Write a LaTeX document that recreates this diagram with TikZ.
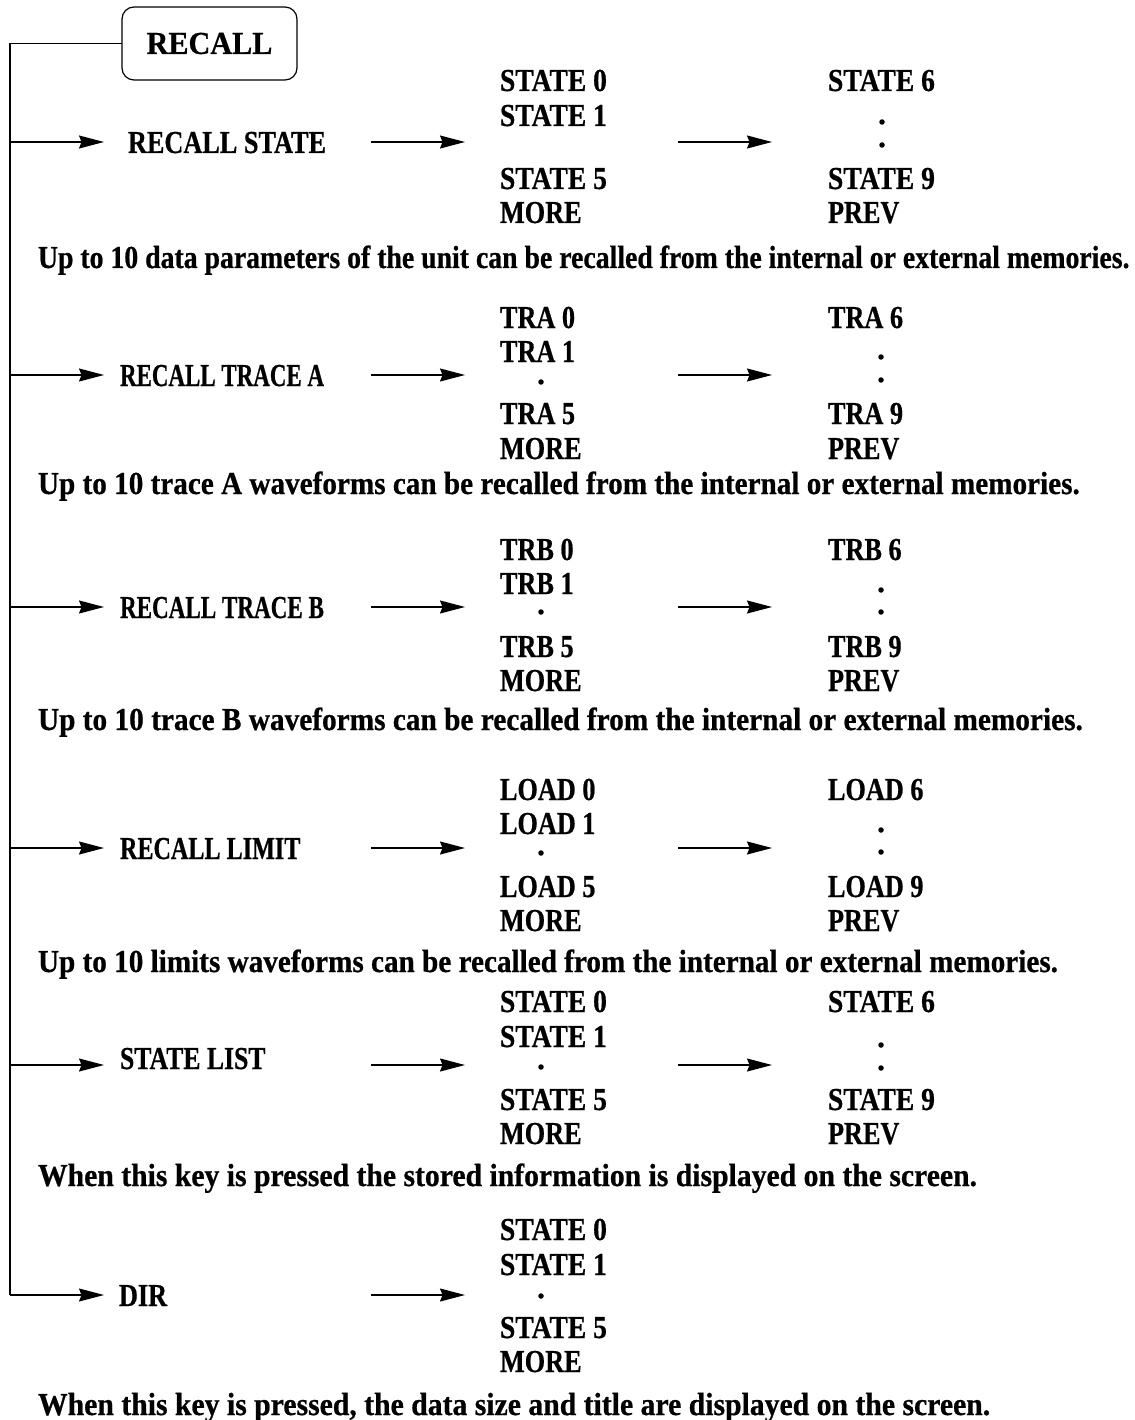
\documentclass[tikz,border=0pt]{standalone}
\usepackage{fontspec}
\newfontfamily\df{Liberation Serif Bold}[FakeStretch=0.82,FakeBold=0.6]
\usetikzlibrary{arrows.meta}
\newcommand{\sx}[2]{\scalebox{#1}[1]{#2}}
\begin{document}
\begin{tikzpicture}[x=1pt,y=-1pt,
  every node/.style={inner sep=0pt, outer sep=0pt},
  txt/.style={anchor=base west, font=\df\fontsize{32}{34}\selectfont},
  desc/.style={anchor=base west, font=\df\fontsize{32}{34}\selectfont},
  dotc/.style={circle, fill=black, minimum size=5.5pt, inner sep=0pt},
  arr/.style={line width=1.2pt, -{Stealth[length=25pt,width=13pt,inset=2.5pt]}},
  ln/.style={line width=1.2pt}]
\useasboundingbox (0,0) rectangle (1134,1420);

% top box
\node[draw, line width=1.2pt, rounded corners=12pt, minimum width=175pt, minimum height=73pt, font=\df\fontsize{32}{34}\selectfont] (recall) at (209.5,43.5) {\sx{1.15}{RECALL}};
\coordinate (corner) at (10,43.5);
\coordinate (bot) at (10,1295);
\draw[ln] (recall.west) -- (corner) -- (bot);

% ---------------- Row 1
\node[txt] (r1) at (128,153) {RECALL STATE};
\coordinate (b1) at (10,142); \coordinate (t1) at (104,142);
\draw[arr] (b1) -- (t1);
\coordinate (m1a) at (371,142); \coordinate (m1b) at (465,142);
\draw[arr] (m1a) -- (m1b);
\coordinate (n1a) at (678,142); \coordinate (n1b) at (772,142);
\draw[arr] (n1a) -- (n1b);
\node[txt] (r1c1) at (500,91) {\sx{1.05}{STATE 0}};
\node[txt] (r1c2) at (500,126) {\sx{1.05}{STATE 1}};
\node[txt] (r1c3) at (500,189) {\sx{1.05}{STATE 5}};
\node[txt] (r1c4) at (500,223) {MORE};
\node[txt] (r1d1) at (828,91) {\sx{1.05}{STATE 6}};
\node[dotc] (r1p1) at (882,122) {};
\node[dotc] (r1p2) at (882,145) {};
\node[txt] (r1d3) at (828,189) {\sx{1.05}{STATE 9}};
\node[txt] (r1d4) at (828,223) {PREV};
\node[desc] (r1x) at (38,268) {\sx{1.058}{Up to 10 data parameters of the unit can be recalled from the internal or external memories.}};

% ---------------- Row 2
\node[txt] (r2) at (120,386) {\sx{0.875}{RECALL TRACE A}};
\coordinate (b2) at (10,375); \coordinate (t2) at (104,375);
\draw[arr] (b2) -- (t2);
\coordinate (m2a) at (371,375); \coordinate (m2b) at (465,375);
\draw[arr] (m2a) -- (m2b);
\coordinate (n2a) at (678,375); \coordinate (n2b) at (772,375);
\draw[arr] (n2a) -- (n2b);
\node[txt] (r2c1) at (500,328) {TRA 0};
\node[txt] (r2c2) at (500,362) {TRA 1};
\node[dotc] (r2cp) at (541,382) {};
\node[txt] (r2c3) at (500,424) {TRA 5};
\node[txt] (r2c4) at (500,459) {MORE};
\node[txt] (r2d1) at (828,328) {TRA 6};
\node[dotc] (r2p1) at (881,357) {};
\node[dotc] (r2p2) at (881,380) {};
\node[txt] (r2d3) at (828,424) {TRA 9};
\node[txt] (r2d4) at (828,459) {PREV};
\node[desc] (r2x) at (38,494) {\sx{1.112}{Up to 10 trace A waveforms can be recalled from the internal or external memories.}};

% ---------------- Row 3
\node[txt] (r3) at (120,618) {\sx{0.88}{RECALL TRACE B}};
\coordinate (b3) at (10,607); \coordinate (t3) at (104,607);
\draw[arr] (b3) -- (t3);
\coordinate (m3a) at (371,607); \coordinate (m3b) at (465,607);
\draw[arr] (m3a) -- (m3b);
\coordinate (n3a) at (678,607); \coordinate (n3b) at (772,607);
\draw[arr] (n3a) -- (n3b);
\node[txt] (r3c1) at (500,560) {TRB 0};
\node[txt] (r3c2) at (500,594) {TRB 1};
\node[dotc] (r3cp) at (541,612) {};
\node[txt] (r3c3) at (500,657) {TRB 5};
\node[txt] (r3c4) at (500,691) {MORE};
\node[txt] (r3d1) at (828,560) {TRB 6};
\node[dotc] (r3p1) at (881,590) {};
\node[dotc] (r3p2) at (881,612) {};
\node[txt] (r3d3) at (828,657) {TRB 9};
\node[txt] (r3d4) at (828,691) {PREV};
\node[desc] (r3x) at (38,730) {\sx{1.117}{Up to 10 trace B waveforms can be recalled from the internal or external memories.}};

% ---------------- Row 4
\node[txt] (r4) at (120,859) {\sx{0.92}{RECALL LIMIT}};
\coordinate (b4) at (10,848); \coordinate (t4) at (104,848);
\draw[arr] (b4) -- (t4);
\coordinate (m4a) at (371,848); \coordinate (m4b) at (465,848);
\draw[arr] (m4a) -- (m4b);
\coordinate (n4a) at (678,848); \coordinate (n4b) at (772,848);
\draw[arr] (n4a) -- (n4b);
\node[txt] (r4c1) at (500,800) {LOAD 0};
\node[txt] (r4c2) at (500,834) {LOAD 1};
\node[dotc] (r4cp) at (541,853) {};
\node[txt] (r4c3) at (500,897) {LOAD 5};
\node[txt] (r4c4) at (500,931) {MORE};
\node[txt] (r4d1) at (828,800) {LOAD 6};
\node[dotc] (r4p1) at (881,830) {};
\node[dotc] (r4p2) at (881,852) {};
\node[txt] (r4d3) at (828,897) {LOAD 9};
\node[txt] (r4d4) at (828,931) {PREV};
\node[desc] (r4x) at (38,972) {\sx{1.112}{Up to 10 limits waveforms can be recalled from the internal or external memories.}};

% ---------------- Row 5
\node[txt] (r5) at (120,1069) {\sx{0.98}{STATE LIST}};
\coordinate (b5) at (10,1065); \coordinate (t5) at (104,1065);
\draw[arr] (b5) -- (t5);
\coordinate (m5a) at (371,1065); \coordinate (m5b) at (465,1065);
\draw[arr] (m5a) -- (m5b);
\coordinate (n5a) at (678,1065); \coordinate (n5b) at (772,1065);
\draw[arr] (n5a) -- (n5b);
\node[txt] (r5c1) at (500,1012) {\sx{1.05}{STATE 0}};
\node[txt] (r5c2) at (500,1047) {\sx{1.05}{STATE 1}};
\node[dotc] (r5cp) at (541,1067) {};
\node[txt] (r5c3) at (500,1110) {\sx{1.05}{STATE 5}};
\node[txt] (r5c4) at (500,1144) {MORE};
\node[txt] (r5d1) at (828,1012) {\sx{1.05}{STATE 6}};
\node[dotc] (r5p1) at (881,1045) {};
\node[dotc] (r5p2) at (881,1068) {};
\node[txt] (r5d3) at (828,1110) {\sx{1.05}{STATE 9}};
\node[txt] (r5d4) at (828,1144) {PREV};
\node[desc] (r5x) at (38,1186) {\sx{1.131}{When this key is pressed the stored information is displayed on the screen.}};

% ---------------- Row 6
\node[txt] (r6) at (119,1306) {DIR};
\coordinate (t6) at (104,1295);
\draw[arr] (bot) -- (t6);
\coordinate (m6a) at (371,1295); \coordinate (m6b) at (465,1295);
\draw[arr] (m6a) -- (m6b);
\node[txt] (r6c1) at (500,1240) {\sx{1.05}{STATE 0}};
\node[txt] (r6c2) at (500,1275) {\sx{1.05}{STATE 1}};
\node[dotc] (r6cp) at (541,1296) {};
\node[txt] (r6c3) at (500,1338) {\sx{1.05}{STATE 5}};
\node[txt] (r6c4) at (500,1372) {MORE};
\node[desc] (r6x) at (38,1415) {\sx{1.132}{When this key is pressed, the data size and title are displayed on the screen.}};
\end{tikzpicture}
\end{document}
